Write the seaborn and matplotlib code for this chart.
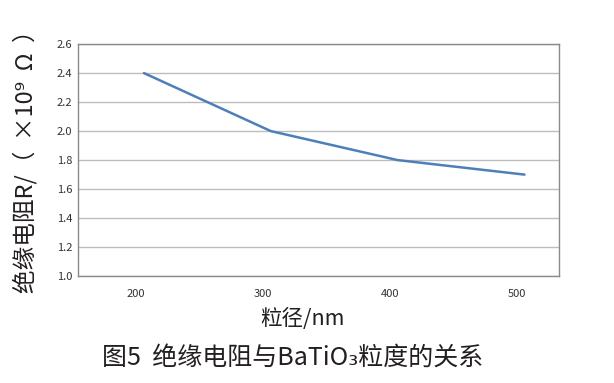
import matplotlib
matplotlib.use("Agg")
import matplotlib.pyplot as plt
import matplotlib.transforms as mtrans
import seaborn as sns
import pandas as pd

sizes = [200, 300, 400, 500]
resistance = [2.4, 2.0, 1.8, 1.7]
yticks = [1.0, 1.2, 1.4, 1.6, 1.8, 2.0, 2.2, 2.4, 2.6]
xticks = [200, 300, 400, 500]

sns.set_theme(style="white")
plt.rcParams['font.family'] = ['Noto Sans CJK SC', 'DejaVu Sans']

df = pd.DataFrame({"size": sizes, "R": resistance})

fig = plt.figure(figsize=(6.14, 3.83), dpi=100)
ax = fig.add_axes([0.127, 0.279, 0.783, 0.606])
sns.lineplot(data=df, x="size", y="R", ax=ax, color="#4f7fb8", linewidth=1.8)

ax.set_xlim(148, 527)
ax.set_ylim(1.0, 2.6)
ax.set_yticks(yticks)
ax.set_yticklabels([f"{v:.1f}" for v in yticks])
ax.set_xticks(xticks)
ax.set_xticklabels([str(v) for v in xticks])
ax.tick_params(axis='both', length=0, labelsize=8, labelcolor="#333333")
for lab in ax.get_xticklabels() + ax.get_yticklabels():
    lab.set_fontweight("medium")
ax.tick_params(axis='x', pad=9)
ax.tick_params(axis='y', pad=4)
shift = mtrans.ScaledTranslation(-8 / 100, 0, fig.dpi_scale_trans)
for lab in ax.get_xticklabels():
    lab.set_transform(lab.get_transform() + shift)
ax.yaxis.grid(True, color="#bdbdbd", linewidth=1.0)
ax.xaxis.grid(False)
for s in ax.spines.values():
    s.set_color("#8a8a8a")
    s.set_linewidth(1.0)

ax.set_xlabel("粒径/nm", fontsize=15.5, color="#231f20")
ax.xaxis.set_label_coords(0.468, -0.135)
ax.set_ylabel("绝缘电阻R/（  ×10⁹  Ω  ）", fontsize=17, color="#231f20")
ax.yaxis.set_label_coords(-0.084, 0.52)

fig.text(0.476, 0.066, "图5  绝缘电阻与BaTiO₃粒度的关系", ha="center", va="center",
         fontsize=18, color="#231f20")

fig.savefig("out.png", dpi=100)
